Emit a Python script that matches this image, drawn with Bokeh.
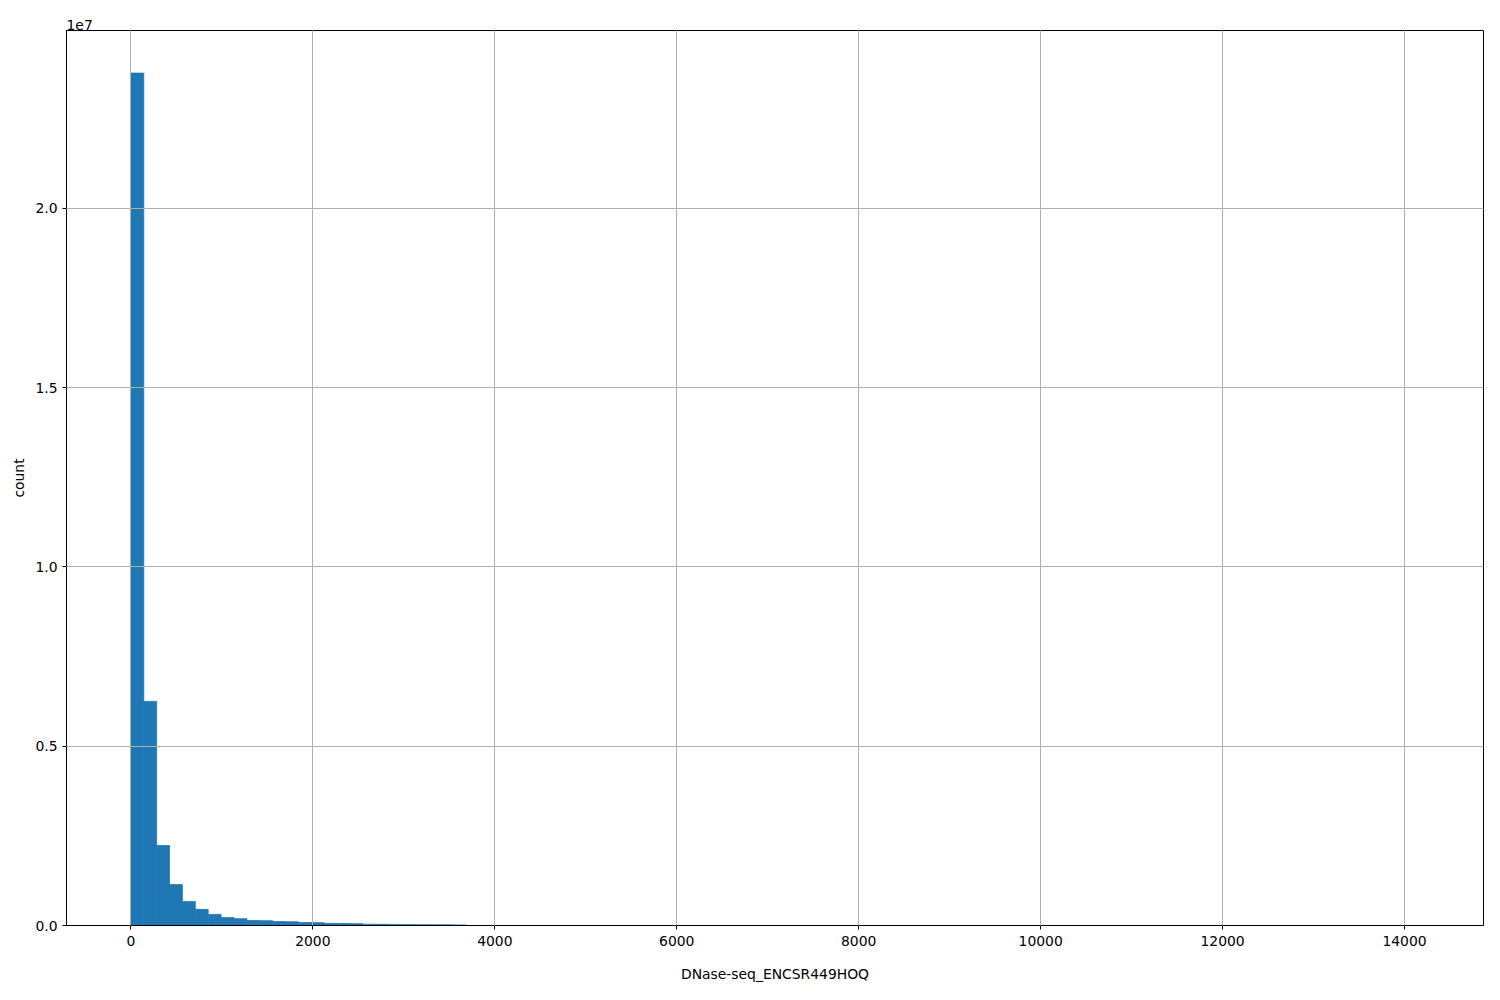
import numpy as np
from bokeh.plotting import figure
from bokeh.models import FixedTicker, CustomJSTickFormatter, Range1d, ColumnDataSource
from bokeh.embed import file_html
from bokeh.resources import INLINE

# Histogram: 100 bins spanning 0 .. ~14160
x_min = 0.0
x_max = 14160.0
n_bins = 100
counts = [
    23770000, 6250000, 2230000, 1140000, 670000, 450000, 310000, 220000, 190000, 140000,
    135000, 110000, 105000, 82000, 78000, 60000, 57000, 52000, 36000, 33000,
    30000, 27000, 24000, 22000, 20000, 17000, 900, 800, 700, 600,
    550, 500, 450, 400, 350, 300, 280, 260, 240, 220,
    200, 180, 170, 160, 150, 140, 130, 120, 110, 100,
    95, 90, 85, 80, 75, 70, 65, 60, 55, 50,
    48, 46, 44, 42, 40, 38, 36, 34, 32, 30,
    28, 26, 24, 22, 20, 19, 18, 17, 16, 15,
    14, 13, 12, 11, 10, 9, 8, 8, 7, 7,
    6, 6, 5, 5, 4, 4, 3, 3, 2, 2,
]
x_ticks = [0, 2000, 4000, 6000, 8000, 10000, 12000, 14000]
y_ticks = [0, 5e6, 1e7, 1.5e7, 2e7]
x_label = "DNase-seq_ENCSR449HOQ"
y_label = "count"
y_multiplier_text = "1e7"

edges = np.linspace(x_min, x_max, n_bins + 1)
src = ColumnDataSource(dict(left=edges[:-1], right=edges[1:], top=counts, bottom=[0] * n_bins))

pad_x = 0.05 * (x_max - x_min)
y_top = max(counts) * 1.05

p = figure(width=1484, height=984, output_backend="svg", toolbar_location=None,
           x_range=Range1d(x_min - pad_x, x_max + pad_x), y_range=Range1d(0, y_top),
           min_border_left=66, min_border_right=1, min_border_top=30, min_border_bottom=59,
           title=y_multiplier_text)

p.title.align = "left"
p.title.text_font = "DejaVu Sans"
p.title.text_font_size = "13.9px"
p.title.text_font_style = "normal"
p.title.text_color = "black"
p.title.standoff = 2

p.quad(left="left", right="right", top="top", bottom="bottom", source=src,
       fill_color="#1f77b4", line_color="#1f77b4", line_width=0.8)

p.outline_line_color = "black"
p.outline_line_width = 1
p.background_fill_color = "white"
p.border_fill_color = "white"

for g in (p.xgrid, p.ygrid):
    g.grid_line_color = "#b0b0b0"
    g.grid_line_width = 1
    g.level = "overlay"
p.xgrid.ticker = FixedTicker(ticks=x_ticks)
p.ygrid.ticker = FixedTicker(ticks=y_ticks)

p.xaxis.ticker = FixedTicker(ticks=x_ticks)
p.yaxis.ticker = FixedTicker(ticks=y_ticks)
p.yaxis.formatter = CustomJSTickFormatter(code="return (tick/1e7).toFixed(1);")

for ax in (p.xaxis, p.yaxis):
    ax.axis_line_color = "black"
    ax.major_tick_line_color = "black"
    ax.major_tick_out = 4
    ax.major_tick_in = 0
    ax.minor_tick_line_color = None
    ax.major_label_text_font = "DejaVu Sans"
    ax.major_label_text_font_size = "13.9px"
    ax.major_label_text_color = "black"
    ax.axis_label_text_font = "DejaVu Sans"
    ax.axis_label_text_font_size = "13.9px"
    ax.axis_label_text_font_style = "normal"
    ax.axis_label_text_color = "black"

p.xaxis.axis_label = x_label
p.yaxis.axis_label = y_label
p.xaxis.major_label_standoff = 6
p.yaxis.major_label_standoff = 5
p.xaxis.axis_label_standoff = 17
p.yaxis.axis_label_standoff = 5

open("out.html", "w").write(file_html(p, INLINE))
